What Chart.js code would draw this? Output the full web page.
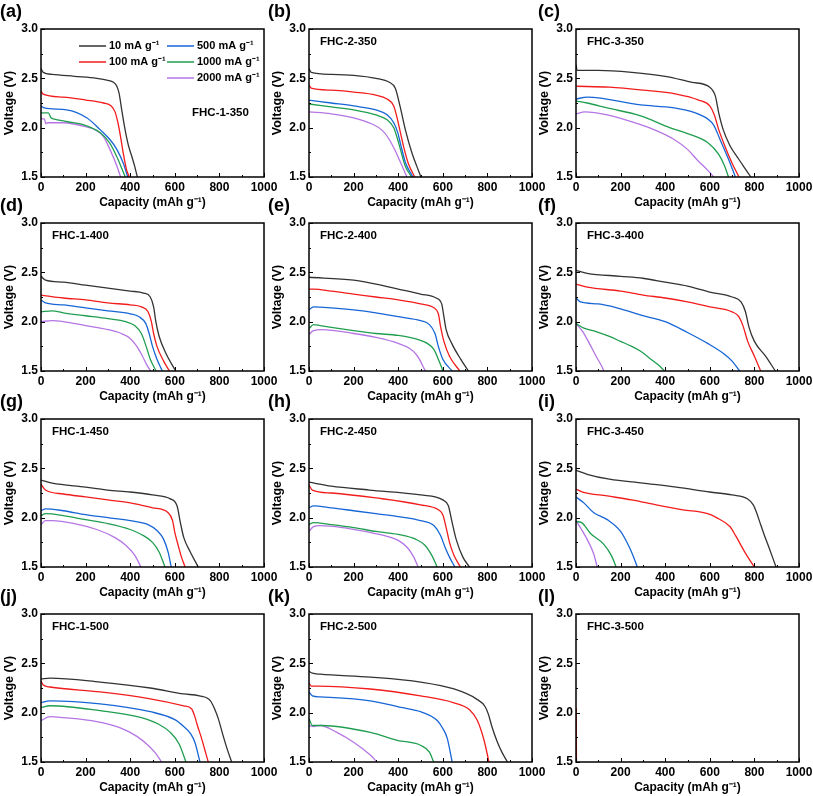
<!DOCTYPE html>
<html>
<head>
<meta charset="utf-8">
<script src="https://cdn.jsdelivr.net/npm/chart.js@4.4.1/dist/chart.umd.min.js"></script>
<style>
body { margin: 0; background: #fff; width: 813px; height: 796px; position: relative; overflow: hidden; }
canvas { position: absolute; }
</style>
</head>
<body>
<script>
// current densities and their colours
const rates = ['10 mA g⁻¹', '100 mA g⁻¹', '500 mA g⁻¹', '1000 mA g⁻¹', '2000 mA g⁻¹'];
const colors = ['#333333', '#f21c1c', '#1766d6', '#1f9e4f', '#b575e4'];
const panelLetters = ['(a)', '(b)', '(c)', '(d)', '(e)', '(f)', '(g)', '(h)', '(i)', '(j)', '(k)', '(l)'];
const sampleNames = ['FHC-1-350', 'FHC-2-350', 'FHC-3-350', 'FHC-1-400', 'FHC-2-400', 'FHC-3-400',
                     'FHC-1-450', 'FHC-2-450', 'FHC-3-450', 'FHC-1-500', 'FHC-2-500', 'FHC-3-500'];
const xTicks = [0, 200, 400, 600, 800, 1000];
const yTicks = [1.5, 2.0, 2.5, 3.0];

// [capacity, voltage] pairs, one list per current density (10, 100, 500, 1000, 2000)
const fhc1_350 = [
    [[0,2.60],[10,2.56],[50,2.54],[150,2.52],[250,2.50],[300,2.48],[325,2.46],[340,2.42],[350,2.35],[362,2.18],[377,1.98],[392,1.82],[407,1.71],[420,1.61],[432,1.5]],
    [[0,2.37],[10,2.34],[100,2.31],[200,2.28],[280,2.25],[315,2.22],[332,2.16],[344,2.06],[356,1.92],[369,1.74],[383,1.58],[396,1.5]],
    [[0,2.22],[15,2.20],[115,2.18],[205,2.10],[265,1.98],[309,1.88],[340,1.78],[369,1.64],[389,1.5]],
    [[0,2.15],[33,2.15],[45,2.10],[55,2.09],[120,2.06],[190,2.03],[265,1.95],[309,1.84],[339,1.71],[360,1.60],[378,1.5]],
    [[0,2.09],[15,2.09],[22,2.04],[30,2.05],[100,2.05],[200,2.01],[250,1.97],[280,1.91],[309,1.78],[339,1.62],[357,1.5]]
];
const fhc2_350 = [
    [[0,2.60],[10,2.56],[100,2.54],[200,2.53],[300,2.50],[360,2.46],[387,2.40],[409,2.21],[432,1.98],[462,1.74],[485,1.60],[502,1.5]],
    [[0,2.43],[10,2.40],[100,2.38],[200,2.36],[300,2.33],[350,2.29],[380,2.22],[395,2.10],[410,1.95],[425,1.80],[445,1.64],[474,1.5]],
    [[0,2.28],[100,2.25],[200,2.22],[300,2.18],[350,2.13],[380,2.05],[398,1.95],[412,1.82],[432,1.65],[466,1.5]],
    [[0,2.24],[100,2.21],[200,2.18],[300,2.13],[350,2.08],[380,2.00],[395,1.90],[410,1.78],[430,1.62],[460,1.5]],
    [[0,2.16],[100,2.14],[200,2.10],[280,2.04],[330,1.97],[360,1.88],[390,1.75],[410,1.65],[439,1.5]]
];
const fhc3_350 = [
    [[0,2.64],[5,2.58],[100,2.58],[250,2.56],[400,2.52],[520,2.46],[600,2.41],[625,2.32],[640,2.15],[660,1.98],[690,1.82],[730,1.68],[760,1.58],[784,1.5]],
    [[0,2.42],[150,2.41],[300,2.38],[450,2.34],[550,2.28],[600,2.22],[620,2.13],[640,1.98],[670,1.80],[700,1.64],[731,1.5]],
    [[0,2.29],[50,2.31],[290,2.23],[440,2.20],[557,2.13],[616,2.03],[646,1.88],[684,1.68],[715,1.5]],
    [[0,2.27],[50,2.25],[140,2.20],[290,2.12],[420,2.00],[500,1.94],[590,1.85],[640,1.73],[665,1.62],[684,1.5]],
    [[0,2.14],[40,2.16],[140,2.13],[290,2.03],[360,1.97],[440,1.88],[500,1.78],[545,1.67],[590,1.57],[617,1.5]]
];
const fhc1_400 = [
    [[0,2.46],[20,2.42],[100,2.40],[200,2.37],[300,2.34],[400,2.31],[460,2.29],[490,2.25],[505,2.15],[515,2.00],[530,1.85],[560,1.68],[604,1.5]],
    [[0,2.27],[100,2.24],[200,2.22],[300,2.19],[400,2.17],[450,2.15],[480,2.10],[495,2.00],[505,1.88],[520,1.75],[550,1.60],[576,1.5]],
    [[0,2.22],[20,2.19],[100,2.17],[200,2.14],[300,2.11],[400,2.08],[440,2.05],[470,1.98],[485,1.88],[500,1.75],[520,1.62],[544,1.5]],
    [[0,2.10],[50,2.11],[100,2.09],[200,2.06],[300,2.03],[380,2.00],[420,1.96],[450,1.88],[470,1.76],[490,1.62],[516,1.5]],
    [[0,2.00],[50,2.01],[100,2.00],[200,1.96],[300,1.92],[360,1.88],[400,1.83],[430,1.75],[455,1.65],[475,1.56],[492,1.5]]
];
const fhc2_400 = [
    [[0,2.45],[200,2.42],[300,2.38],[400,2.33],[500,2.28],[570,2.24],[595,2.18],[605,2.05],[615,1.92],[640,1.78],[680,1.62],[715,1.5]],
    [[0,2.33],[20,2.33],[100,2.31],[200,2.28],[300,2.25],[400,2.22],[500,2.18],[560,2.14],[580,2.08],[590,1.95],[605,1.80],[630,1.65],[676,1.5]],
    [[0,2.12],[20,2.15],[100,2.14],[200,2.12],[300,2.09],[400,2.05],[500,2.01],[540,1.97],[565,1.88],[580,1.75],[600,1.62],[642,1.5]],
    [[0,1.93],[20,1.97],[50,1.96],[200,1.91],[300,1.88],[400,1.86],[500,1.81],[530,1.78],[560,1.72],[580,1.62],[601,1.5]],
    [[0,1.87],[20,1.91],[60,1.92],[200,1.88],[300,1.84],[400,1.78],[450,1.73],[480,1.67],[500,1.60],[515,1.53],[523,1.5]]
];
const fhc3_400 = [
    [[0,2.52],[50,2.49],[200,2.46],[300,2.44],[400,2.40],[500,2.36],[600,2.30],[700,2.25],[740,2.20],[760,2.10],[775,1.95],[800,1.80],[850,1.65],[894,1.5]],
    [[0,2.38],[50,2.35],[200,2.31],[300,2.27],[400,2.24],[500,2.20],[600,2.15],[700,2.10],[730,2.05],[750,1.95],[770,1.80],[800,1.65],[828,1.5]],
    [[0,2.24],[20,2.20],[100,2.18],[200,2.13],[300,2.06],[400,2.00],[500,1.89],[590,1.78],[660,1.68],[700,1.60],[734,1.5]],
    [[0,1.98],[30,1.94],[90,1.90],[150,1.85],[200,1.80],[250,1.75],[290,1.70],[330,1.63],[370,1.56],[397,1.5]],
    [[0,1.98],[30,1.90],[60,1.78],[90,1.65],[115,1.55],[125,1.5]]
];
const fhc1_450 = [
    [[0,2.38],[50,2.35],[200,2.31],[300,2.28],[400,2.26],[500,2.23],[580,2.19],[610,2.12],[625,1.95],[640,1.80],[670,1.65],[705,1.5]],
    [[0,2.34],[20,2.28],[100,2.24],[200,2.21],[300,2.18],[400,2.15],[500,2.10],[570,2.05],[590,1.97],[600,1.85],[615,1.72],[630,1.60],[646,1.5]],
    [[0,2.07],[20,2.09],[100,2.07],[200,2.03],[300,2.00],[400,1.97],[480,1.93],[520,1.87],[550,1.78],[570,1.65],[584,1.5]],
    [[0,2.02],[20,2.04],[100,2.02],[200,1.98],[300,1.94],[400,1.88],[450,1.83],[500,1.75],[530,1.65],[556,1.5]],
    [[0,1.93],[20,1.97],[50,1.97],[150,1.94],[250,1.88],[330,1.80],[380,1.72],[420,1.62],[448,1.5]]
];
const fhc2_450 = [
    [[0,2.36],[100,2.32],[270,2.28],[500,2.23],[600,2.18],[625,2.12],[640,1.97],[660,1.78],[690,1.60],[720,1.5]],
    [[0,2.33],[15,2.28],[100,2.25],[300,2.20],[500,2.13],[580,2.08],[600,2.03],[615,1.90],[630,1.75],[650,1.62],[679,1.5]],
    [[0,2.10],[20,2.12],[100,2.10],[200,2.07],[300,2.04],[400,2.01],[500,1.97],[560,1.92],[590,1.82],[610,1.70],[630,1.60],[654,1.5]],
    [[0,1.93],[20,1.95],[100,1.93],[200,1.90],[300,1.86],[400,1.83],[480,1.78],[520,1.72],[550,1.62],[565,1.55],[574,1.5]],
    [[0,1.86],[20,1.91],[50,1.92],[150,1.90],[250,1.86],[350,1.81],[400,1.77],[440,1.70],[470,1.60],[489,1.5]]
];
const fhc3_450 = [
    [[0,2.48],[50,2.44],[150,2.39],[300,2.35],[450,2.31],[600,2.26],[700,2.23],[770,2.19],[795,2.13],[810,2.05],[825,1.95],[845,1.82],[865,1.70],[897,1.5]],
    [[0,2.29],[30,2.26],[140,2.22],[250,2.18],[360,2.13],[480,2.08],[590,2.04],[630,2.00],[690,1.91],[715,1.82],[735,1.74],[765,1.62],[800,1.5]],
    [[0,2.21],[35,2.15],[80,2.05],[140,1.98],[200,1.86],[235,1.72],[255,1.62],[275,1.5]],
    [[0,1.96],[25,1.95],[65,1.84],[125,1.73],[160,1.61],[180,1.5]],
    [[0,1.97],[25,1.88],[50,1.78],[80,1.63],[95,1.5]]
];
const fhc1_500 = [
    [[0,2.34],[40,2.35],[265,2.31],[490,2.25],[640,2.19],[710,2.17],[760,2.12],[780,2.03],[795,1.94],[815,1.78],[835,1.63],[855,1.5]],
    [[0,2.32],[10,2.28],[40,2.26],[265,2.21],[490,2.14],[640,2.07],[675,2.04],[690,1.96],[700,1.88],[720,1.74],[740,1.58],[750,1.5]],
    [[0,2.10],[40,2.12],[265,2.09],[490,2.01],[600,1.93],[640,1.86],[670,1.79],[690,1.70],[713,1.5]],
    [[0,2.05],[40,2.07],[265,2.02],[450,1.95],[530,1.88],[580,1.80],[620,1.68],[650,1.5]],
    [[0,1.92],[40,1.96],[100,1.95],[250,1.91],[350,1.85],[430,1.76],[480,1.67],[510,1.60],[541,1.5]]
];
const fhc2_500 = [
    [[0,2.42],[15,2.40],[50,2.39],[275,2.36],[500,2.31],[650,2.24],[750,2.14],[790,2.06],[805,1.98],[820,1.86],[845,1.70],[865,1.60],[890,1.5]],
    [[0,2.30],[10,2.27],[35,2.27],[275,2.24],[500,2.17],[650,2.10],[720,2.03],[755,1.92],[785,1.72],[807,1.5]],
    [[0,2.21],[15,2.17],[50,2.16],[275,2.12],[420,2.05],[500,2.01],[575,1.92],[600,1.84],[620,1.74],[642,1.5]],
    [[0,1.94],[15,1.87],[60,1.87],[275,1.80],[395,1.72],[500,1.67],[540,1.60],[559,1.5]],
    [[0,1.87],[20,1.86],[50,1.87],[125,1.80],[200,1.70],[275,1.57],[305,1.5]]
];
const fhc3_500 = [
    [],
    [[1,2.05],[2,1.5]],
    [],
    [],
    []
];
const panels = [fhc1_350, fhc2_350, fhc3_350, fhc1_400, fhc2_400, fhc3_400,
                fhc1_450, fhc2_450, fhc3_450, fhc1_500, fhc2_500, fhc3_500];

const colLeft = [0, 268, 535];
const rowTop = [0, 194, 390, 585];
const FONT = "'Liberation Sans', Arial, sans-serif";

Chart.defaults.font.family = FONT;
Chart.defaults.font.weight = 'bold';
Chart.defaults.color = '#000';

// box round the plot and inward ticks on the bottom and left axes
const frame = {
    id: 'frame',
    afterDatasetsDraw(chart) {
        const {ctx, chartArea: a, scales: {x, y}} = chart;
        ctx.save();
        ctx.strokeStyle = '#000';
        ctx.lineWidth = 1;
        const tick = (vals, len, vertical) => vals.forEach(v => {
            ctx.beginPath();
            if (vertical) {
                const px = Math.round(x.getPixelForValue(v)) + 0.5;
                ctx.moveTo(px, a.bottom); ctx.lineTo(px, a.bottom - len);
            } else {
                const py = Math.round(y.getPixelForValue(v)) + 0.5;
                ctx.moveTo(a.left, py); ctx.lineTo(a.left + len, py);
            }
            ctx.stroke();
        });
        const mids = t => t.slice(1).map((v, i) => (v + t[i]) / 2);
        tick(xTicks, 4, true); tick(mids(xTicks), 2, true);
        tick(yTicks, 4, false); tick(mids(yTicks), 2, false);
        ctx.lineWidth = 1.5;
        ctx.strokeRect(a.left, a.top, a.width, a.height);
        ctx.restore();
    }
};

// panel letter, sample name and (for panel a) the legend
const labels = {
    id: 'labels',
    afterDraw(chart, args, o) {
        const {ctx, chartArea: a} = chart;
        ctx.save();
        ctx.fillStyle = '#000';
        ctx.textBaseline = 'alphabetic';
        ctx.font = `bold 18px ${FONT}`;
        ctx.fillText(o.letter, o.letterX, 17);
        ctx.textBaseline = 'middle';
        ctx.font = `bold 11.5px ${FONT}`;
        ctx.fillText(o.name, a.left + o.nameDx, a.top + o.nameDy);
        if (o.legend) {
            ctx.font = `bold 11px ${FONT}`;
            const spots = [[79, 46], [79, 62], [167, 46], [167, 62], [167, 78]];
            rates.forEach((r, i) => {
                const [lx, ly] = spots[i];
                ctx.strokeStyle = colors[i];
                ctx.lineWidth = 1.5;
                ctx.beginPath(); ctx.moveTo(lx, ly); ctx.lineTo(lx + 27, ly); ctx.stroke();
                ctx.fillText(r, lx + 30, ly);
            });
        }
        ctx.restore();
    }
};

panels.forEach((series, i) => {
    const c = document.createElement('canvas');
    c.width = 285; c.height = 211;
    c.style.left = colLeft[i % 3] + 'px';
    c.style.top = rowTop[Math.floor(i / 3)] + 'px';
    document.body.appendChild(c);

    const first = i === 0;
    new Chart(c, {
        type: 'line',
        data: {
            datasets: series.map((pts, k) => ({
                label: rates[k],
                data: pts.map(([x, y]) => ({x, y})),
                borderColor: colors[k],
                borderWidth: 1.3,
                pointRadius: 0,
                cubicInterpolationMode: 'monotone',
                fill: false
            }))
        },
        options: {
            responsive: false,
            animation: false,
            devicePixelRatio: 1,
            layout: { padding: { top: 29, right: 21, left: 0, bottom: 0 } },
            plugins: {
                legend: { display: false },
                tooltip: { enabled: false },
                labels: {
                    letter: panelLetters[i],
                    letterX: i % 3 === 2 ? 3 : 0,
                    name: sampleNames[i],
                    nameDx: first ? 151 : 11,
                    nameDy: first ? 84 : 13,
                    legend: first
                }
            },
            scales: {
                x: {
                    type: 'linear', min: 0, max: 1000,
                    afterBuildTicks: s => { s.ticks = xTicks.map(v => ({value: v})); },
                    afterFit: s => { s.height = 34; s.paddingLeft = 0; s.paddingRight = 0; },
                    grid: { display: false, drawTicks: false },
                    border: { display: false },
                    ticks: { padding: 3, maxRotation: 0, autoSkip: false, callback: v => String(v),
                             font: { size: 12, weight: 'bold' } },
                    title: { display: true, text: 'Capacity (mAh g⁻¹)', padding: { top: 0, bottom: 1 },
                             font: { size: 12, weight: 'bold' } }
                },
                y: {
                    min: 1.5, max: 3.0,
                    afterBuildTicks: s => { s.ticks = yTicks.map(v => ({value: v})); },
                    afterFit: s => { s.width = 41; s.paddingTop = 0; s.paddingBottom = 0; },
                    grid: { display: false, drawTicks: false },
                    border: { display: false },
                    ticks: { padding: 3, callback: v => v.toFixed(1), font: { size: 12, weight: 'bold' } },
                    title: { display: true, text: 'Voltage (V)', padding: { top: 2, bottom: 0 },
                             font: { size: 12.5, weight: 'bold' } }
                }
            }
        },
        plugins: [frame, labels]
    });
});
</script>
</body>
</html>
